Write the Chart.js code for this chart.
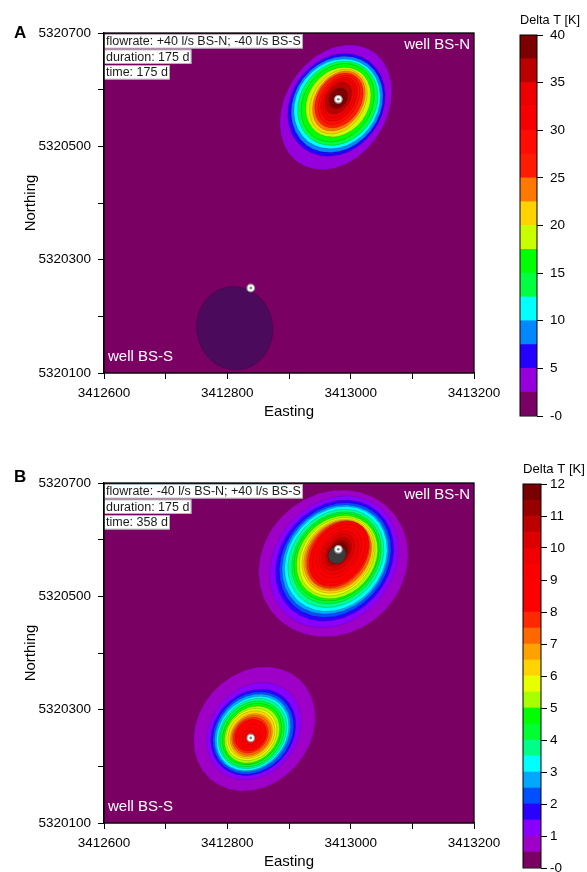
<!DOCTYPE html>
<html>
<head>
<meta charset="utf-8">
<script src="https://cdn.jsdelivr.net/npm/chart.js@4.4.1/dist/chart.umd.min.js"></script>
<style>
  html, body { margin: 0; padding: 0; background: #fff; width: 587px; height: 872px; overflow: hidden; }
  canvas { position: absolute; }
</style>
</head>
<body>
<canvas id="mapA" width="587" height="440" style="left:0;top:0"></canvas>
<canvas id="barA" width="107" height="440" style="left:480px;top:0"></canvas>
<canvas id="mapB" width="587" height="440" style="left:0;top:450px"></canvas>
<canvas id="barB" width="107" height="440" style="left:480px;top:450px"></canvas>
<script>
// ---- Map frame (Gauss-Krueger coordinates, m) ----
const eastingRange = [3412600, 3413200];
const northingRange = [5320100, 5320700];
const eastingTicks = [3412600, 3412800, 3413000, 3413200];
const northingTicks = [5320100, 5320300, 5320500, 5320700];

// ---- Wells ----
const wellNames = ['BS-N', 'BS-S'];
const wellEasting = [3412980, 3412838];
const wellNorthing = [5320583, 5320250];

// ---- Scenario A: +40 l/s BS-N; -40 l/s BS-S, time 175 d ----
const infoA = ['flowrate: +40 l/s BS-N; -40 l/s BS-S', 'duration: 175 d', 'time: 175 d'];
const scaleTicksA = [0, 5, 10, 15, 20, 25, 30, 35, 40];
const bandStepA = 2.5;
// warm plume around BS-N: contour level, semi-axes (m), centre shift from the well (m)
const levelsA_N = [2.5, 5, 7.5, 10, 12.5, 15, 17.5, 20, 22.5, 25, 27.5, 30, 32.5, 35, 37.5];
const majorA_N  = [116, 94, 88, 82, 77, 72, 64, 60, 56, 51, 46, 41, 36, 30, 19];
const minorA_N  = [84, 75, 71, 67, 62, 56, 50, 43, 39, 36, 30, 26, 22, 19, 14];
const shiftEA_N = [-4, -3, -2, -2, -1, -1, 0, 0, 1, 1, 1, 1, 1, 0, 0];
const shiftNA_N = [-14, -10, -9, -8, -7, -6, -5, -4, -3, -2, -1, 0, 1, 2, 2];
// cooled zone (below 0 K) near BS-S
const levelsA_S = [-0.1];
const majorA_S  = [74];
const minorA_S  = [62];
const shiftEA_S = [-26];
const shiftNA_S = [-71];

// ---- Scenario B: -40 l/s BS-N; +40 l/s BS-S, time 358 d ----
const infoB = ['flowrate: -40 l/s BS-N; +40 l/s BS-S', 'duration: 175 d', 'time: 358 d'];
const scaleTicksB = [0, 1, 2, 3, 4, 5, 6, 7, 8, 9, 10, 11, 12];
const bandStepB = 0.5;
const levelsB_N = [0.5, 1, 1.5, 2, 2.5, 3, 3.5, 4, 4.5, 5, 5.5, 6, 6.5, 7, 7.5, 8, 8.5, 9, 9.5, 10, 10.5, 11, 11.5, 12];
const majorB_N  = [134, 122, 112, 106, 101, 97, 91, 85, 81, 77, 73, 69, 66, 64, 63, 61, 55, 48, 41, 35, 28, 22, 17, 16];
const minorB_N  = [117, 98, 90, 85, 81, 78, 73, 68, 65, 62, 57, 54, 51, 49, 46, 43, 38, 32, 28, 23, 18, 15, 12, 14];
const shiftEB_N = [-8, -7, -6, -5, -5, -4, -4, -3, -3, -2, -2, -1, -1, 0, 0, 1, 1, 1, 1, 0, 0, 0, 0, -2];
const shiftNB_N = [-25, -22, -20, -19, -18, -17, -16, -15, -14, -14, -13, -12, -11, -10, -9, -8, -7, -6, -6, -5, -5, -5, -5, -10];
const levelsB_S = [0.5, 1, 1.5, 2, 2.5, 3, 3.5, 4, 4.5, 5, 5.5, 6, 6.5, 7, 7.5, 8, 8.5, 9, 9.5];
const majorB_S  = [115, 90, 80, 76, 72, 69, 65, 61, 57, 53, 48, 44, 40, 37, 33, 29, 22, 16, 10];
const minorB_S  = [93, 72, 65, 62, 58, 55, 52, 49, 45, 42, 39, 36, 32, 30, 27, 24, 17, 13, 8];
const shiftEB_S = [6, 5, 4, 4, 3, 3, 3, 2, 2, 2, 1, 1, 1, 1, 0, 0, 0, 0, 0];
const shiftNB_S = [16, 12, 10, 9, 9, 8, 8, 7, 7, 6, 6, 6, 5, 5, 5, 5, 4, 3, 3];

// ---- Colour tables (one colour per band, lowest first) ----
const paletteA = ['#7b0064', '#9500dc', '#2400ff', '#0088ff', '#00ffff', '#00ff40', '#00ff00', '#c8ff00',
                  '#ffd200', '#ff7800', '#ff1c00', '#ff0d00', '#f80000', '#ee0000', '#bb0000', '#7c0000'];
const paletteB = ['#7b0064', '#9e00c8', '#8a00ff', '#2a00ff', '#0050ff', '#00a8ff', '#00ffff', '#00ff88',
                  '#00ff30', '#00ff00', '#a8ff00', '#e8ff00', '#ffd400', '#ffa200', '#ff6800', '#ff2800',
                  '#ff0000', '#ff0000', '#fa0000', '#f00000', '#dc0000', '#bc0000', '#980000', '#780000'];
const colorBelow = '#4c0a5c';
const colorAbove = '#3c3c3c';
const TILT_A = 64, TILT_A_COLD = 95, TILT_B = 60;

const FONT = '"Liberation Sans", Arial, Helvetica, sans-serif';
Chart.defaults.font.family = FONT;
Chart.defaults.color = '#000';

// closed elliptical iso-line around a well (faceted, like a gridded contour)
function ring(e0, n0, major, minor, tiltDeg, dE, dN) {
  const t = tiltDeg * Math.PI / 180, pts = [], n = 32;
  for (let k = 0; k <= n; k++) {
    const p = 2 * Math.PI * (k % n) / n;
    const u = major * Math.cos(p), v = minor * Math.sin(p);
    pts.push({ x: e0 + dE + u * Math.cos(t) - v * Math.sin(t),
               y: n0 + dN + u * Math.sin(t) + v * Math.cos(t) });
  }
  return pts;
}

function bandColor(level, step, palette) {
  if (level < 0) return colorBelow;
  const i = Math.round(level / step);
  return i < palette.length ? palette[i] : colorAbove;
}

function plumeLayers(well, levels, major, minor, shiftE, shiftN, tilt, step, palette) {
  return levels.map((lv, i) => ({
    data: ring(wellEasting[well], wellNorthing[well], major[i], minor[i], tilt, shiftE[i], shiftN[i]),
    showLine: true,
    fill: 'shape',
    backgroundColor: bandColor(lv, step, palette),
    borderColor: 'rgba(35,0,30,0.3)',
    borderWidth: 0.6,
    pointRadius: 0,
    tension: 0.0001
  }));
}

function wellLayers() {
  const pts = wellEasting.map((e, i) => ({ x: e, y: wellNorthing[i] }));
  return [
    { data: pts, pointRadius: 3.8, pointBackgroundColor: '#ffffff', pointBorderColor: '#9a9a9a', pointBorderWidth: 1.2 },
    { data: pts, pointRadius: 1.4, pointBackgroundColor: '#8a8a8a', pointBorderWidth: 0 }
  ];
}

function withOrder(list) {
  return list.map((d, i) => Object.assign(d, { order: list.length - i }));
}

const mapDecor = {
  id: 'mapDecor',
  beforeDatasetsDraw(chart, args, o) {
    const { ctx, chartArea: a } = chart;
    ctx.save();
    ctx.fillStyle = o.background;
    ctx.fillRect(a.left, a.top, a.width, a.height);
    ctx.restore();
  },
  afterDatasetsDraw(chart, args, o) {
    const { ctx, chartArea: a } = chart;
    ctx.save();
    // info boxes
    ctx.font = '12.5px ' + FONT;
    ctx.textBaseline = 'middle';
    ctx.textAlign = 'left';
    o.info.forEach((txt, i) => {
      const y = a.top + 1 + i * 15.5;
      const w = ctx.measureText(txt).width + 4;
      ctx.fillStyle = '#ffffff';
      ctx.fillRect(a.left, y, w, 14.5);
      ctx.strokeStyle = '#a0a0a0';
      ctx.lineWidth = 0.8;
      ctx.strokeRect(a.left + 0.4, y + 0.4, w - 0.8, 13.7);
      ctx.fillStyle = '#1a1a1a';
      ctx.fillText(txt, a.left + 2, y + 7.6);
    });
    // well names
    ctx.font = '15px ' + FONT;
    ctx.fillStyle = '#ffffff';
    ctx.textAlign = 'right';
    ctx.fillText('well ' + wellNames[0], a.right - 4, a.top + 12);
    ctx.textAlign = 'left';
    ctx.fillText('well ' + wellNames[1], a.left + 4, a.bottom - 16);
    // frame
    ctx.strokeStyle = '#000';
    ctx.lineWidth = 1.3;
    ctx.strokeRect(a.left, a.top, a.width, a.height);
    ctx.restore();
  },
  afterDraw(chart, args, o) {
    const { ctx } = chart;
    ctx.save();
    ctx.font = 'bold 17px ' + FONT;
    ctx.fillStyle = '#000';
    ctx.textBaseline = 'middle';
    ctx.textAlign = 'left';
    ctx.fillText(o.letter, 14, o.letterY);
    ctx.restore();
  }
};

function axisCommon(list) {
  return {
    type: 'linear',
    ticks: {
      stepSize: 100, autoSkip: false, maxRotation: 0, color: '#000',
      font: { size: 13.5 },
      callback: v => list.includes(Math.round(v)) ? String(Math.round(v)) : ''
    },
    grid: { drawOnChartArea: false, drawTicks: true, tickLength: 6, color: '#000', lineWidth: 1 },
    border: { display: true, color: '#000', width: 1.3 }
  };
}

function buildMap(id, layers, info, letter, letterY) {
  const x = axisCommon(eastingTicks);
  x.min = eastingRange[0]; x.max = eastingRange[1];
  x.ticks.padding = 6;
  x.afterFit = s => { s.height = 67; };
  x.title = { display: true, text: 'Easting', color: '#000', font: { size: 15 }, padding: { top: 0, bottom: 19 } };
  const y = axisCommon(northingTicks);
  y.min = northingRange[0]; y.max = northingRange[1];
  y.ticks.padding = 7;
  y.afterFit = s => { s.width = 104; };
  y.title = { display: true, text: 'Northing', color: '#000', font: { size: 15 }, padding: { top: 22, bottom: 0 } };
  return new Chart(document.getElementById(id), {
    type: 'scatter',
    data: { datasets: withOrder(layers) },
    options: {
      responsive: false,
      animation: false,
      layout: { padding: { left: 0, top: 33, right: 113, bottom: 0 } },
      plugins: {
        legend: { display: false },
        tooltip: { enabled: false },
        mapDecor: { background: paletteA[0], info, letter, letterY }
      },
      scales: { x, y }
    },
    plugins: [mapDecor]
  });
}

const barFrame = {
  id: 'barFrame',
  afterDatasetsDraw(chart) {
    const { ctx, chartArea: a } = chart;
    ctx.save();
    ctx.strokeStyle = '#000';
    ctx.lineWidth = 1;
    ctx.strokeRect(a.left, a.top, a.width, a.height);
    ctx.restore();
  }
};

function buildColorbar(id, palette, step, ticks, pad, scaleWidth, tickPad, titlePad) {
  const max = ticks[ticks.length - 1];
  return new Chart(document.getElementById(id), {
    type: 'bar',
    data: {
      labels: [''],
      datasets: palette.map(c => ({
        data: [step], backgroundColor: c, borderWidth: 0,
        barPercentage: 1, categoryPercentage: 1
      }))
    },
    options: {
      responsive: false,
      animation: false,
      layout: { padding: pad },
      plugins: {
        legend: { display: false },
        tooltip: { enabled: false },
        title: { display: true, text: 'Delta T [K]', color: '#000', font: { size: 13.5, weight: 'normal' }, padding: titlePad }
      },
      scales: {
        x: { stacked: true, display: false },
        y: {
          stacked: true, position: 'right', min: 0, max: max,
          afterFit: s => { s.width = scaleWidth; },
          afterBuildTicks: s => { s.ticks = ticks.map(v => ({ value: v })); },
          ticks: { color: '#000', font: { size: 13.5 }, padding: tickPad, autoSkip: false,
                   callback: v => v === 0 ? '-0' : String(v) },
          grid: { drawOnChartArea: false, drawTicks: true, tickLength: 6, color: '#000', lineWidth: 1 },
          border: { display: false }
        }
      }
    },
    plugins: [barFrame]
  });
}

// ---- Panel A ----
const layersA = [].concat(
  plumeLayers(1, levelsA_S, majorA_S, minorA_S, shiftEA_S, shiftNA_S, TILT_A_COLD, bandStepA, paletteA),
  plumeLayers(0, levelsA_N, majorA_N, minorA_N, shiftEA_N, shiftNA_N, TILT_A, bandStepA, paletteA),
  wellLayers()
);
buildMap('mapA', layersA, infoA, 'A', 33);
buildColorbar('barA', paletteA, bandStepA, scaleTicksA,
  { left: 40, right: 7, top: 0, bottom: 24 }, 43, 7, { top: 11.9, bottom: 6.9 });

// ---- Panel B ----
const layersB = [].concat(
  plumeLayers(0, levelsB_N, majorB_N, minorB_N, shiftEB_N, shiftNB_N, TILT_B, bandStepB, paletteB),
  plumeLayers(1, levelsB_S, majorB_S, minorB_S, shiftEB_S, shiftNB_S, TILT_B, bandStepB, paletteB),
  wellLayers()
);
buildMap('mapB', layersB, infoB, 'B', 27);
buildColorbar('barB', paletteB, bandStepB, scaleTicksB,
  { left: 43, right: 2, top: 0, bottom: 22 }, 44, 3, { top: 10.9, bottom: 6.9 });
</script>
</body>
</html>
